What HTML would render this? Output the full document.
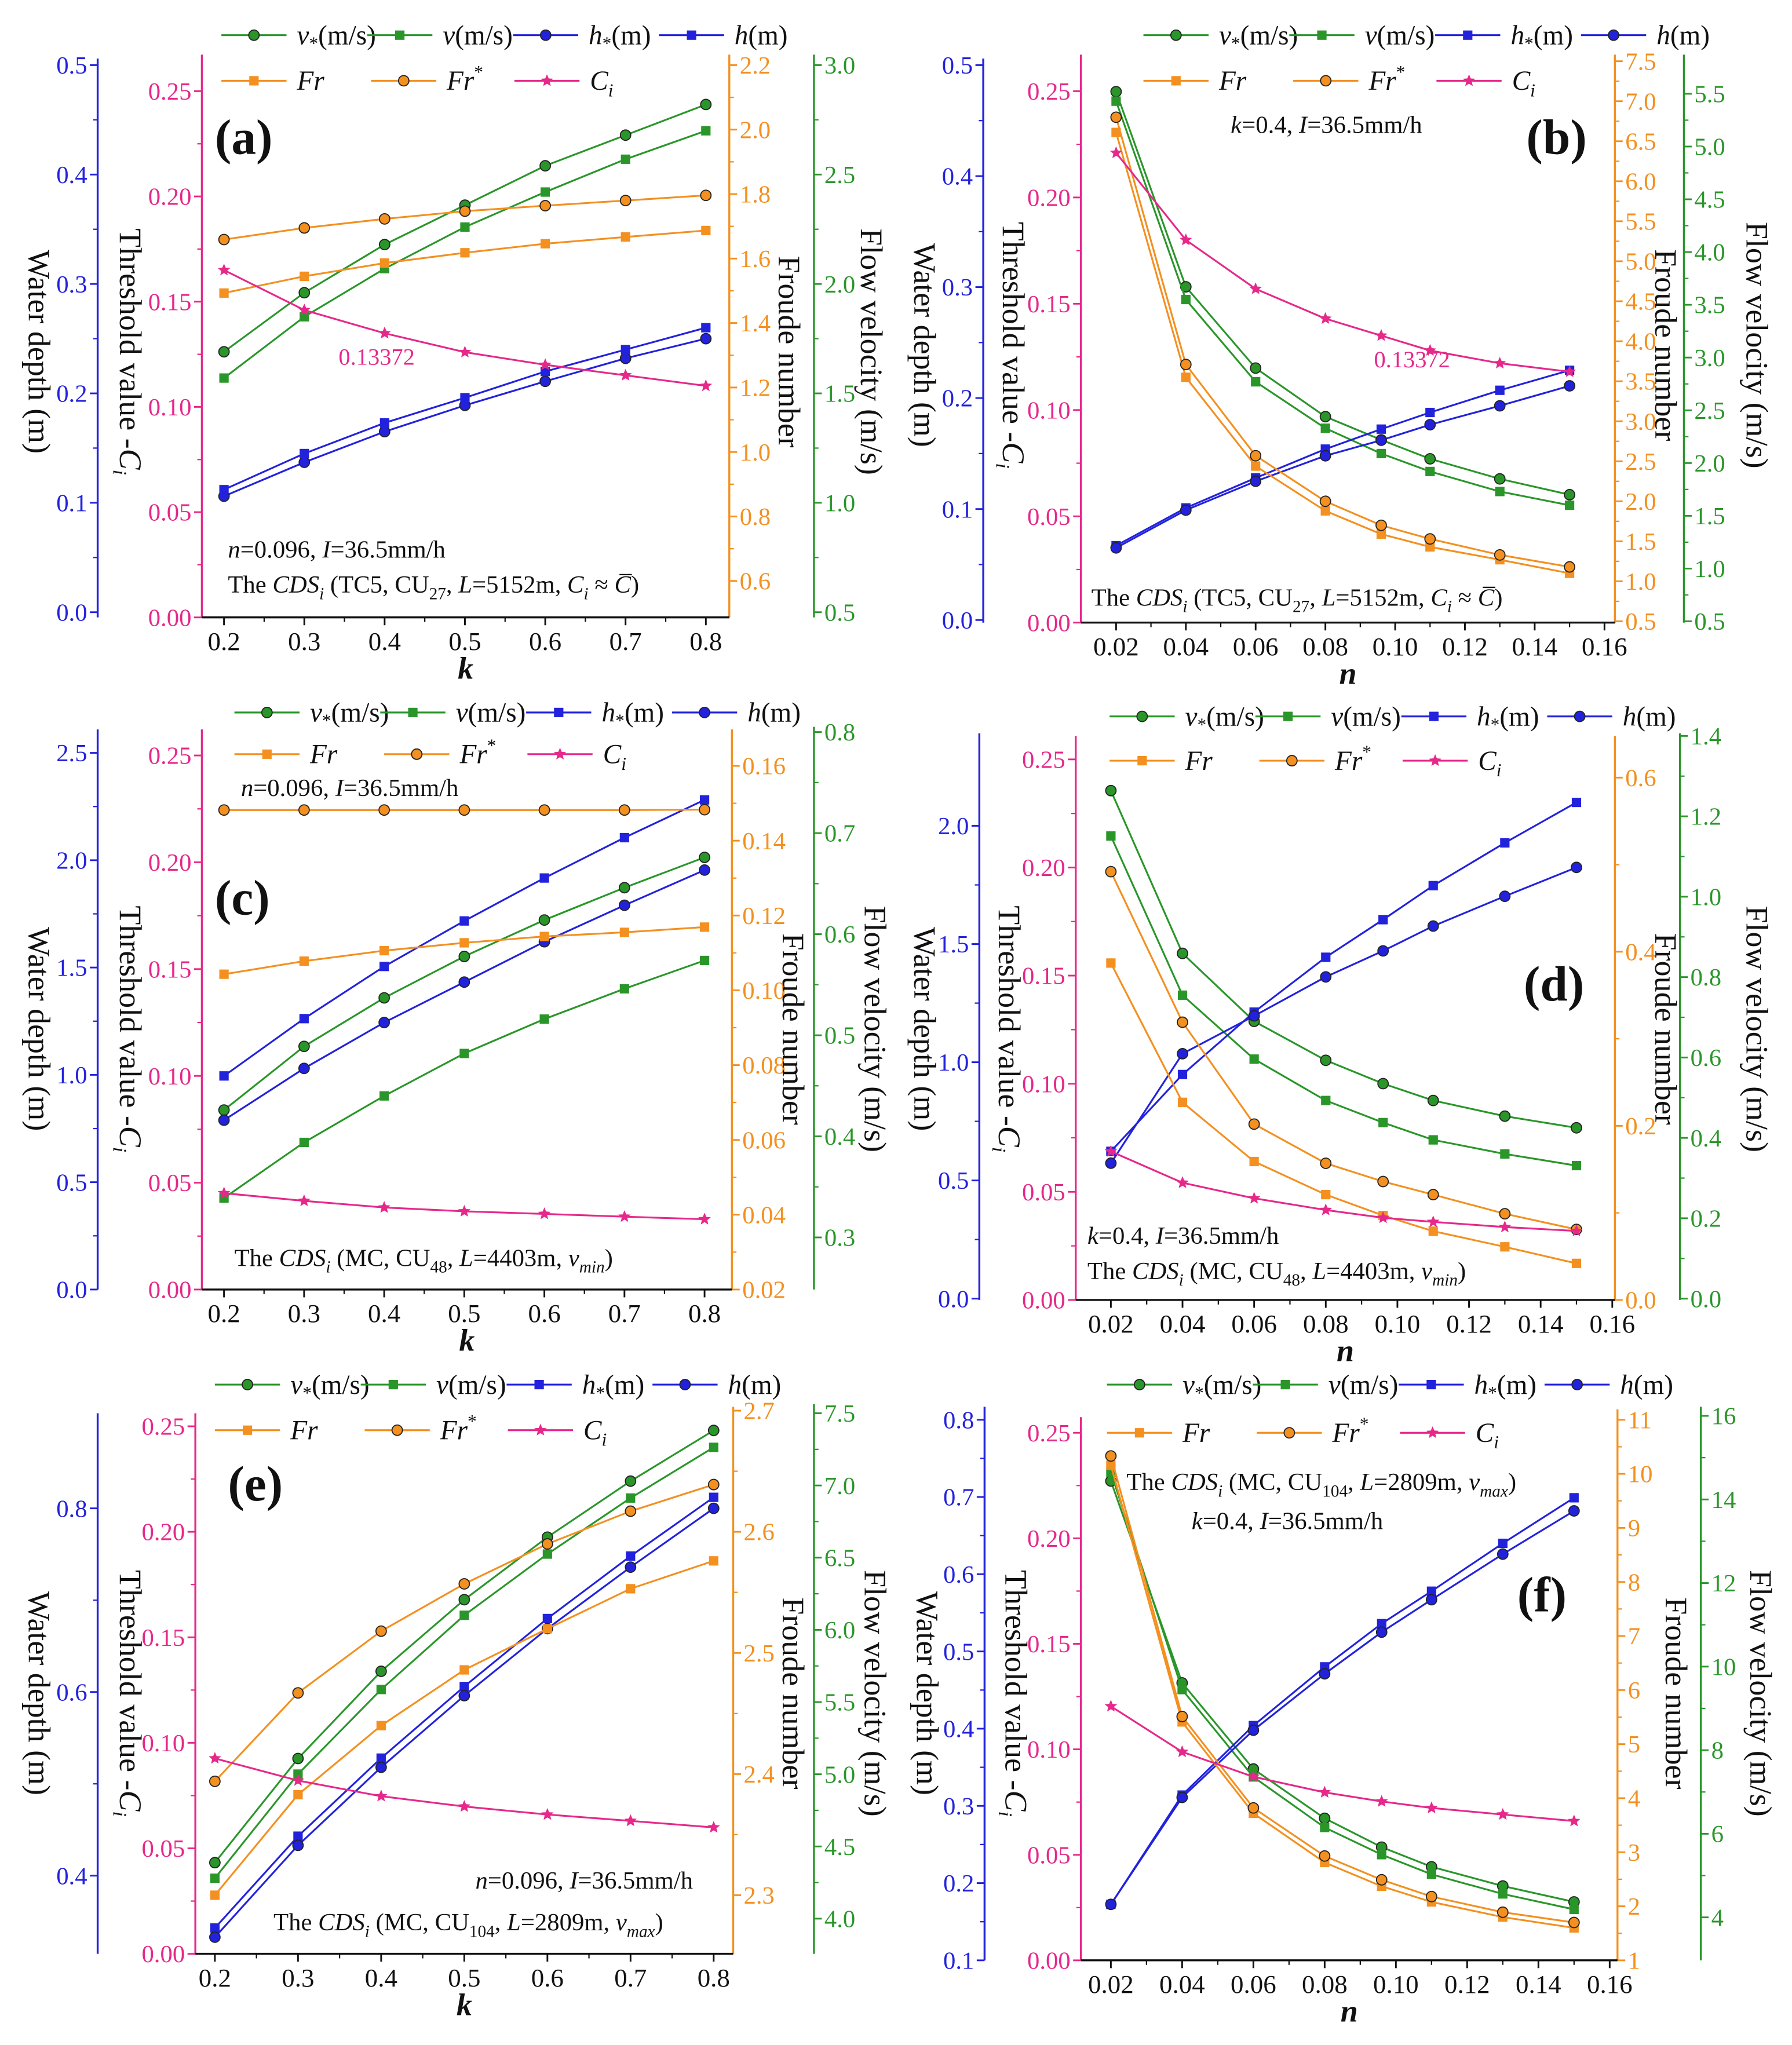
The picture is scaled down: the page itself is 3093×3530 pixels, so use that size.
<!DOCTYPE html>
<html><head><meta charset="utf-8"><style>
html,body{margin:0;padding:0;background:#fff}
svg{display:block;font-family:"Liberation Serif","DejaVu Serif",serif}
</style></head><body>
<svg id="fig" width="3093" height="3530" viewBox="0 0 1376 1570" preserveAspectRatio="none" xmlns="http://www.w3.org/2000/svg"></svg>
<script>
// ---- data arrays ----
const kVals=[0.2,0.3,0.4,0.5,0.6,0.7,0.8];
const nVals=[0.02,0.04,0.06,0.08,0.096,0.11,0.13,0.15];
// panel a
const aVstar=[1.69,1.96,2.18,2.36,2.54,2.68,2.82];
const aV=[1.57,1.85,2.07,2.26,2.42,2.57,2.70];
const aHstar=[0.106,0.137,0.165,0.189,0.211,0.232,0.250];
const aH=[0.112,0.145,0.173,0.196,0.220,0.240,0.260];
const aFr=[1.493,1.545,1.586,1.618,1.646,1.667,1.687];
const aFrs=[1.659,1.695,1.723,1.747,1.764,1.780,1.796];
const aCi=[0.165,0.146,0.135,0.126,0.120,0.115,0.110];
// panel b
const bVstar=[5.52,3.67,2.90,2.44,2.22,2.04,1.85,1.70];
const bV=[5.43,3.55,2.77,2.33,2.09,1.92,1.73,1.60];
const bHstar=[0.067,0.101,0.128,0.154,0.172,0.187,0.207,0.225];
const bH=[0.065,0.099,0.125,0.148,0.162,0.176,0.193,0.211];
const bFr=[6.61,3.55,2.44,1.88,1.59,1.43,1.27,1.10];
const bFrs=[6.80,3.71,2.57,2.00,1.70,1.53,1.33,1.18];
const bCi=[0.221,0.180,0.157,0.143,0.135,0.128,0.122,0.118];
// panel c
const cVstar=[0.426,0.489,0.537,0.578,0.614,0.646,0.676];
const cV=[0.339,0.394,0.440,0.482,0.516,0.546,0.574];
const cHstar=[0.995,1.262,1.505,1.717,1.917,2.105,2.281];
const cH=[0.789,1.03,1.244,1.432,1.620,1.790,1.954];
const cFr=[0.1043,0.1078,0.1106,0.1127,0.1144,0.1155,0.1169];
const cFrs=[0.1482,0.1482,0.1482,0.1482,0.1482,0.1482,0.1483];
const cCi=[0.0451,0.0415,0.0384,0.0366,0.0354,0.0341,0.0329];
// panel d
const dVstar=[1.264,0.859,0.690,0.593,0.535,0.493,0.454,0.425];
const dV=[1.151,0.755,0.596,0.493,0.438,0.395,0.360,0.331];
const dHstar=[0.623,0.948,1.212,1.444,1.603,1.747,1.928,2.099];
const dH=[0.573,1.036,1.196,1.361,1.471,1.576,1.702,1.824];
const dFr=[0.387,0.227,0.159,0.121,0.097,0.079,0.061,0.042];
const dFrs=[0.492,0.319,0.202,0.157,0.136,0.121,0.099,0.081];
const dCi=[0.0687,0.0542,0.0470,0.0416,0.0380,0.0361,0.0337,0.0319];
// panel e
const eVstar=[4.388,5.109,5.713,6.209,6.642,7.030,7.381];
const eV=[4.280,5.001,5.587,6.101,6.525,6.913,7.264];
const eHstar=[0.343,0.443,0.528,0.606,0.680,0.748,0.812];
const eH=[0.333,0.433,0.518,0.596,0.669,0.736,0.800];
const eFr=[2.300,2.383,2.440,2.486,2.520,2.553,2.576];
const eFrs=[2.394,2.467,2.518,2.557,2.590,2.617,2.639];
const eCi=[0.0926,0.0821,0.0747,0.0698,0.0660,0.0630,0.0599];
// panel f
const fVstar=[14.44,9.61,7.55,6.37,5.68,5.21,4.75,4.37];
const fV=[14.65,9.45,7.36,6.15,5.50,5.03,4.56,4.19];
const fHstar=[0.1725,0.314,0.404,0.480,0.536,0.578,0.640,0.699];
const fH=[0.1725,0.311,0.398,0.471,0.525,0.567,0.626,0.682];
const fFr=[10.16,5.41,3.72,2.81,2.37,2.08,1.80,1.60];
const fFrs=[10.33,5.51,3.82,2.93,2.49,2.18,1.89,1.70];
const fCi=[0.1204,0.0988,0.0870,0.0796,0.0753,0.0722,0.0691,0.0660];
// tick label arrays
const kTicks=[0.2,0.3,0.4,0.5,0.6,0.7,0.8];
const nTicks=[0.02,0.04,0.06,0.08,0.10,0.12,0.14,0.16];
const pinkTicks=[0,0.05,0.10,0.15,0.20,0.25];

const C={blue:'#2222dd',pink:'#e6288a',orange:'#f39020',green:'#2a962a'};
const NS='http://www.w3.org/2000/svg';
const svg=document.getElementById('fig');
function mk(tag,attrs,parent,text){const e=document.createElementNS(NS,tag);for(const k in attrs)e.setAttribute(k,attrs[k]);if(text!==undefined)e.textContent=text;(parent||svg).appendChild(e);return e;}
function range(a,b,s){const r=[];for(let v=a;v<=b+1e-9;v+=s)r.push(Math.round(v*1000)/1000);return r;}
function lin(p0,v0,p1,v1){return v=>p0+(v-v0)*(p1-p0)/(v1-v0);}

const panels=[
{id:'a',xs:kVals,xt:kTicks,xdec:1,xpx:[172,0.2,542,0.8],xl:'k',base:474,L:155,R:560,
 ax:{blue:{x:75,p:[470,0,50,0.5],t:range(0,0.5,0.1),d:1,top:45},pink:{x:155,p:[474,0,70,0.25],t:pinkTicks,d:2,top:42},
 orange:{x:560,p:[446,0.6,50,2.2],t:range(0.6,2.2,0.2),d:1,top:42},green:{x:625,p:[470,0.5,50,3.0],t:range(0.5,3.0,0.5),d:1,top:42}},
 s:[[aVstar,'green','c'],[aV,'green','s'],[aHstar,'blue','c'],[aH,'blue','s'],[aFr,'orange','s'],[aFrs,'orange','c'],[aCi,'pink','*']],
 tx:{wd:30,th:100,fr:606,fv:669,cy:270},leg:[170,27,62],lab:[165,118,'(a)'],
 notes:[[175,428,'n=0.096, I=36.5mm/h'],[175,455,'cds1']],anno:[260,280]},
{id:'b',xs:nVals,xt:nTicks,xdec:2,xpx:[857,0.02,1232,0.16],xl:'n',base:478,L:830,R:1240,
 ax:{blue:{x:755,p:[476,0,50,0.5],t:range(0,0.5,0.1),d:1,top:45},pink:{x:830,p:[478,0,70,0.25],t:pinkTicks,d:2,top:42},
 orange:{x:1240,p:[477,0.5,47,7.5],t:range(0.5,7.5,0.5),d:1,top:42},green:{x:1293,p:[477,0.5,72,5.5],t:range(0.5,5.5,0.5),d:1,top:42}},
 s:[[bVstar,'green','c'],[bV,'green','s'],[bHstar,'blue','s'],[bH,'blue','c'],[bFr,'orange','s'],[bFrs,'orange','c'],[bCi,'pink','*']],
 tx:{wd:710,th:778,fr:1279,fv:1349,cy:265},leg:[878,27,62],lab:[1172,118,'(b)'],
 notes:[[945,102,'k=0.4, I=36.5mm/h'],[838,465,'cds1']],anno:[1055,282]},
{id:'c',xs:kVals,xt:kTicks,xdec:1,xpx:[172,0.2,541,0.8],xl:'k',base:990,L:155,R:562,
 ax:{blue:{x:75,p:[990,0,578,2.5],t:range(0,2.5,0.5),d:1,top:560},pink:{x:155,p:[990,0,580,0.25],t:pinkTicks,d:2,top:560},
 orange:{x:562,p:[990,0.02,588,0.16],t:range(0.02,0.16,0.02),d:2,top:560},green:{x:625,p:[950,0.3,562,0.8],t:range(0.3,0.8,0.1),d:1,top:558}},
 s:[[cVstar,'green','c'],[cV,'green','s'],[cHstar,'blue','s'],[cH,'blue','c'],[cFr,'orange','s'],[cFrs,'orange','c'],[cCi,'pink','*']],
 tx:{wd:30,th:100,fr:609,fv:672,cy:790},leg:[180,547,579],lab:[165,702,'(c)'],
 notes:[[185,611,'n=0.096, I=36.5mm/h'],[180,972,'cds2']]},
{id:'d',xs:nVals,xt:nTicks,xdec:2,xpx:[853,0.02,1238,0.16],xl:'n',base:998,L:826,R:1240,
 ax:{blue:{x:752,p:[997,0,634,2.0],t:range(0,2.0,0.5),d:1,top:563},pink:{x:826,p:[998,0,583,0.25],t:pinkTicks,d:2,top:565},
 orange:{x:1240,p:[998,0,597,0.6],t:range(0,0.6,0.2),d:1,top:565},green:{x:1290,p:[997,0,565,1.4],t:range(0,1.4,0.2),d:1,top:563}},
 s:[[dVstar,'green','c'],[dV,'green','s'],[dHstar,'blue','s'],[dH,'blue','c'],[dFr,'orange','s'],[dFrs,'orange','c'],[dCi,'pink','*']],
 tx:{wd:710,th:775,fr:1279,fv:1349,cy:790},leg:[852,550,584],lab:[1170,768,'(d)'],
 notes:[[835,955,'k=0.4, I=36.5mm/h'],[835,982,'cds2']]},
{id:'e',xs:kVals,xt:kTicks,xdec:1,xpx:[165,0.2,548,0.8],xl:'k',base:1500,L:150,R:563,
 ax:{blue:{x:75,p:[1440,0.4,1158,0.8],t:[0.4,0.6,0.8],d:1,top:1085},pink:{x:150,p:[1500,0,1095,0.25],t:pinkTicks,d:2,top:1085},
 orange:{x:563,p:[1455,2.3,1083,2.7],t:range(2.3,2.7,0.1),d:1,top:1080},green:{x:625,p:[1473,4.0,1085,7.5],t:range(4.0,7.5,0.5),d:1,top:1078}},
 s:[[eVstar,'green','c'],[eV,'green','s'],[eHstar,'blue','s'],[eH,'blue','c'],[eFr,'orange','s'],[eFrs,'orange','c'],[eCi,'pink','*']],
 tx:{wd:30,th:100,fr:609,fv:672,cy:1300},leg:[165,1063,1098],lab:[175,1152,'(e)'],
 notes:[[365,1450,'n=0.096, I=36.5mm/h'],[210,1482,'cds3']]},
{id:'f',xs:nVals,xt:nTicks,xdec:2,xpx:[853,0.02,1236,0.16],xl:'n',base:1505,L:830,R:1242,
 ax:{blue:{x:756,p:[1505,0.1,1090,0.8],t:range(0.1,0.8,0.1),d:1,top:1080},pink:{x:830,p:[1505,0,1100,0.25],t:pinkTicks,d:2,top:1088},
 orange:{x:1242,p:[1505,1,1090,11],t:range(1,11,1),d:0,top:1082},green:{x:1306,p:[1472,4,1087,16],t:range(4,16,2),d:0,top:1080}},
 s:[[fVstar,'green','c'],[fV,'green','s'],[fHstar,'blue','s'],[fH,'blue','c'],[fFr,'orange','s'],[fFrs,'orange','c'],[fCi,'pink','*']],
 tx:{wd:712,th:780,fr:1287,fv:1352,cy:1300},leg:[850,1063,1100],lab:[1165,1237,'(f)'],
 notes:[[865,1144,'cds3'],[915,1174,'k=0.4, I=36.5mm/h']]}
];

function star(g,x,y,r,col){let pts=[];for(let i=0;i<10;i++){const a=-Math.PI/2+i*Math.PI/5,rr=i%2?r*0.45:r;pts.push((x+rr*Math.cos(a)).toFixed(1)+','+(y+rr*Math.sin(a)).toFixed(1));}
 const s=mk('polygon',{points:pts.join(' '),fill:col},g);return s;}
function marker(g,type,x,y,col){
 let m;
 if(type==='c'){m=mk('circle',{cx:x,cy:y,r:4,fill:col,stroke:'#222','stroke-width':0.8},g);}
 else if(type==='s'){m=mk('rect',{x:x-3.6,y:y-3.6,width:7.2,height:7.2,fill:col},g);}
 else m=star(g,x,y,5,col);
 return m;}
function richText(g,x,y,kind,size){
 const t=mk('text',{x:x,y:y,'font-size':size||19,fill:'#111'},g);
 const add=(s,o)=>{const ts=mk('tspan',o||{},t,s);return ts;};
 if(kind==='cds1'){add('The ');add('CDS',{'font-style':'italic'});add('i',{'font-style':'italic','font-size':13,dy:5});add(' (TC5, CU',{dy:-5});add('27',{'font-size':13,dy:5});add(', ',{dy:-5});add('L',{'font-style':'italic'});add('=5152m, ');add('C',{'font-style':'italic'});add('i',{'font-style':'italic','font-size':13,dy:5});add(' ≈ ',{dy:-5});add('C̅',{'font-style':'italic'});add(')');}
 else if(kind==='cds2'||kind==='cds3'){const cu=kind==='cds2'?'48':'104',L=kind==='cds2'?'4403':'2809',vv=kind==='cds2'?'min':'max';
  add('The ');add('CDS',{'font-style':'italic'});add('i',{'font-style':'italic','font-size':13,dy:5});add(' (MC, CU',{dy:-5});add(cu,{'font-size':13,dy:5});add(', ',{dy:-5});add('L',{'font-style':'italic'});add('='+L+'m, ');add('v',{'font-style':'italic'});add(vv,{'font-style':'italic','font-size':13,dy:5});add(')',{dy:-5});}
 else {const m=kind.match(/^(\w)=(.*), I=(.*)$/);add(m[1],{'font-style':'italic'});add('='+m[2]+', ');add('I',{'font-style':'italic'});add('='+m[3]);}
 return t;}

panels.forEach(P=>{
 const g=mk('g',{});
 
 
 const xs=lin(...P.xpx);
 const sc={};
 Object.keys(P.ax).forEach(k=>{
  const A=P.ax[k];sc[k]=lin(...A.p);const col=C[k];
  const ag=mk('g',{},g);
  
  
  mk('line',{x1:A.x,x2:A.x,y1:A.top,y2:P.base,stroke:col,'stroke-width':1.5},ag);
  const right=(k==='orange'||k==='green');
  A.t.forEach((v,i)=>{const y=sc[k](v);const dir=right?1:-1;
   mk('line',{x1:A.x,x2:A.x+dir*6,y1:y,y2:y,stroke:col,'stroke-width':1.3},ag);
   if(i<A.t.length-1){const ym=(y+sc[k](A.t[i+1]))/2;mk('line',{x1:A.x,x2:A.x+dir*3.5,y1:ym,y2:ym,stroke:col,'stroke-width':1},ag);}
   const lbl=mk('text',{x:A.x+dir*8,y:y+6.5,'font-size':19,fill:col,'text-anchor':right?'start':'end'},ag,v.toFixed(A.d));
   
   
  });
 });
 const xg=mk('g',{},g);
 
 
 mk('line',{x1:P.L,x2:P.R,y1:P.base,y2:P.base,stroke:'#111','stroke-width':1.5},xg);
 P.xt.forEach((v,i)=>{const x=xs(v);mk('line',{x1:x,x2:x,y1:P.base,y2:P.base+6,stroke:'#111','stroke-width':1.3},xg);
  if(i<P.xt.length-1){const xm=(x+xs(P.xt[i+1]))/2;mk('line',{x1:xm,x2:xm,y1:P.base,y2:P.base+3.5,stroke:'#111'},xg);}
  mk('text',{x:x,y:P.base+25,'font-size':20,'text-anchor':'middle',fill:'#111'},xg,v.toFixed(P.xdec));});
 const xt=mk('text',{x:(P.L+P.R)/2,y:P.base+47,'font-size':24,'font-style':'italic','font-weight':'bold','text-anchor':'middle',fill:'#111'},xg,P.xl);
 
 
 const tt=(x,nm)=>{const t=mk('text',{x:x,y:P.tx.cy,'font-size':24,'text-anchor':'middle',fill:'#111',transform:`rotate(90 ${x} ${P.tx.cy})`},g);
  
  
  return t;};
 tt(P.tx.wd-8,'water-depth-title').textContent='Water depth (m)';
 const th=tt(P.tx.th-8,'threshold-title');mk('tspan',{},th,'Threshold value -');mk('tspan',{'font-style':'italic'},th,'C');mk('tspan',{'font-style':'italic','font-size':15,dy:5},th,'i');
 tt(P.tx.fr-8,'froude-title').textContent='Froude number';
 tt(P.tx.fv-8,'flow-velocity-title').textContent='Flow velocity (m/s)';
 P.s.forEach(([vals,ax,mt])=>{
  const sg=mk('g',{},g);
  
  
  const pts=vals.map((v,i)=>[xs(P.xs[i]),sc[ax](v)]);
  mk('polyline',{points:pts.map(p=>p.join(',')).join(' '),fill:'none',stroke:C[ax],'stroke-width':1.4},sg);
  pts.forEach(p=>{const m=marker(sg,mt,p[0],p[1],C[ax]);
   
   });
 });
 const [lx,ly1,ly2]=P.leg;
 const lg=mk('g',{},g);
 
 
 const r1=P.s.slice(0,4),labs1=[['v','*','(m/s)'],['v','','(m/s)'],['h','*','(m)'],['h','','(m)']];
 const ent=(x,y,s,lab)=>{const e=mk('g',{},lg);
  
  
  mk('line',{x1:x,x2:x+50,y1:y,y2:y,stroke:C[s[1]],'stroke-width':1.4},e);
  marker(e,s[2],x+25,y,C[s[1]]);
  const t=mk('text',{x:x+58,y:y+7,'font-size':21,fill:'#111'},e);
  mk('tspan',{'font-style':'italic'},t,lab[0]);
  if(lab[1]==='*')mk('tspan',{'font-size':14,dy:4},t,'*');
  else if(lab[1]==='sup')mk('tspan',{'font-size':14,dy:-9},t,'*');
  else if(lab[1]==='i')mk('tspan',{'font-size':14,dy:5,'font-style':'italic'},t,'i');
  if(lab[2])mk('tspan',{dy:lab[1]==='*'?-4:0},t,lab[2]);};
 r1.forEach((s,i)=>ent(lx+i*112,ly1,s,labs1[i]));
 ent(lx,ly2,P.s[4],['Fr','','']);
 ent(lx+115,ly2,P.s[5],['Fr','sup','']);
 ent(lx+225,ly2,P.s[6],['C','i','']);
 const pl=mk('text',{x:P.lab[0],y:P.lab[1],'font-size':38,'font-weight':'bold',fill:'#111'},g,P.lab[2]);
 
 
 P.notes.forEach(n=>{const t=richText(g,n[0],n[1],n[2]);
  
  });
 if(P.anno){const a=mk('text',{x:P.anno[0],y:P.anno[1],'font-size':18,fill:C.pink},g,'0.13372');
  
  }
});
</script>
</body></html>
